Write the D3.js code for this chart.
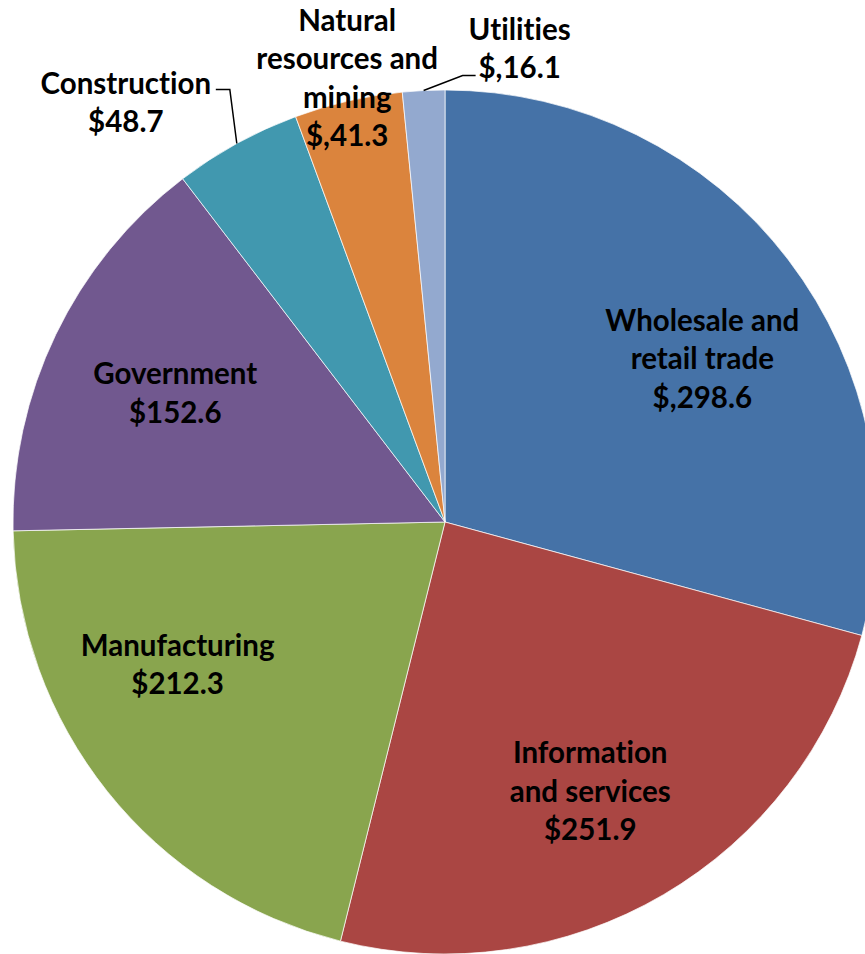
<!DOCTYPE html>
<html>
<head>
<meta charset="utf-8">
<script src="https://cdn.jsdelivr.net/npm/d3@7"></script>
<style>
  body { margin: 0; background: #fff; }
  text { font-family: Lato, "Open Sans", sans-serif; font-weight: 700; font-variant-ligatures: none; }
</style>
</head>
<body>
<div id="chart"></div>
<script>
// sectors, clockwise from 12 o'clock
var sectors = ["Wholesale and retail trade", "Information and services", "Manufacturing",
  "Government", "Construction", "Natural resources and mining", "Utilities"];
var values = [298.6, 251.9, 212.3, 152.6, 48.7, 41.3, 16.1];
// label text as printed in the chart (line breaks included)
var labelLines = [
  ["Wholesale and", "retail trade", "$,298.6"],
  ["Information", "and services", "$251.9"],
  ["Manufacturing", "$212.3"],
  ["Government", "$152.6"],
  ["Construction", "$48.7"],
  ["Natural", "resources and", "mining", "$,41.3"],
  ["Utilities", "$,16.1"]
];
var colors = ["#4572A7", "#AA4643", "#89A54E", "#71588F", "#4198AF", "#DB843D", "#93A9CF"];

var width = 865, height = 954;
var cx = 445, cy = 522, radius = 432;
var lineH = 38.5;

// label placement: point on the slice's middle angle at radius r, then nudged
var labelPos = [
  {r: 305, dx: 15, dy: 22},
  {r: 305, dx: -9, dy: 6},
  {r: 305, dx: -29, dy: -48},
  {r: 305, dx: 5, dy: 3},
  {r: 432, dx: -111, dy: -41},
  {r: 432, dx: -1, dy: -23},
  {r: 432, dx: 96, dy: -42}
];
// leader lines (from the slice edge) : elbow offset, then horizontal run
var leaders = {4: {ex: -7, ey: -54, run: -14}, 6: {ex: 39, ey: -15, run: 13}};

var svg = d3.select("#chart").append("svg")
  .attr("width", width)
  .attr("height", height);

var pie = d3.pie().sort(null).value(function(d) { return d; })
  .startAngle(0).endAngle(2 * Math.PI);
var arcs = pie(values);

var arc = d3.arc().innerRadius(0).outerRadius(radius);

var g = svg.append("g").attr("transform", "translate(" + cx + "," + cy + ")");

g.selectAll("path.slice")
  .data(arcs)
  .enter().append("path")
  .attr("class", "slice")
  .attr("d", arc)
  .style("fill", function(d, i) { return colors[i]; })
  .style("stroke", "#ffffff")
  .style("stroke-opacity", 0.7)
  .style("stroke-width", 1);

function pointAt(d, r) {
  var a = (d.startAngle + d.endAngle) / 2;
  return [r * Math.sin(a), -r * Math.cos(a)];
}

// leader lines
Object.keys(leaders).forEach(function(k) {
  var d = arcs[k], L = leaders[k];
  var p0 = pointAt(d, radius);
  var p1 = [p0[0] + L.ex, p0[1] + L.ey];
  var p2 = [p1[0] + L.run, p1[1]];
  g.append("polyline")
    .attr("points", [p0, p1, p2].map(function(p) { return p.join(","); }).join(" "))
    .style("fill", "none")
    .style("stroke", "#000")
    .style("stroke-width", 1.5);
});

var labels = g.selectAll("text.label")
  .data(arcs)
  .enter().append("text")
  .attr("class", "label")
  .attr("text-anchor", "middle")
  .style("font-size", "29.5px")
  .style("fill", "#000")
  .attr("transform", function(d, i) {
    var p = pointAt(d, labelPos[i].r);
    return "translate(" + (p[0] + labelPos[i].dx) + "," + (p[1] + labelPos[i].dy) + ")";
  });

labels.each(function(d, i) {
  var lines = labelLines[i];
  var t = d3.select(this);
  lines.forEach(function(s, j) {
    t.append("tspan")
      .attr("x", 0)
      .attr("y", (j - (lines.length - 1) / 2) * lineH)
      .attr("dy", "0.36em")
      .text(s);
  });
});
</script>
</body>
</html>
